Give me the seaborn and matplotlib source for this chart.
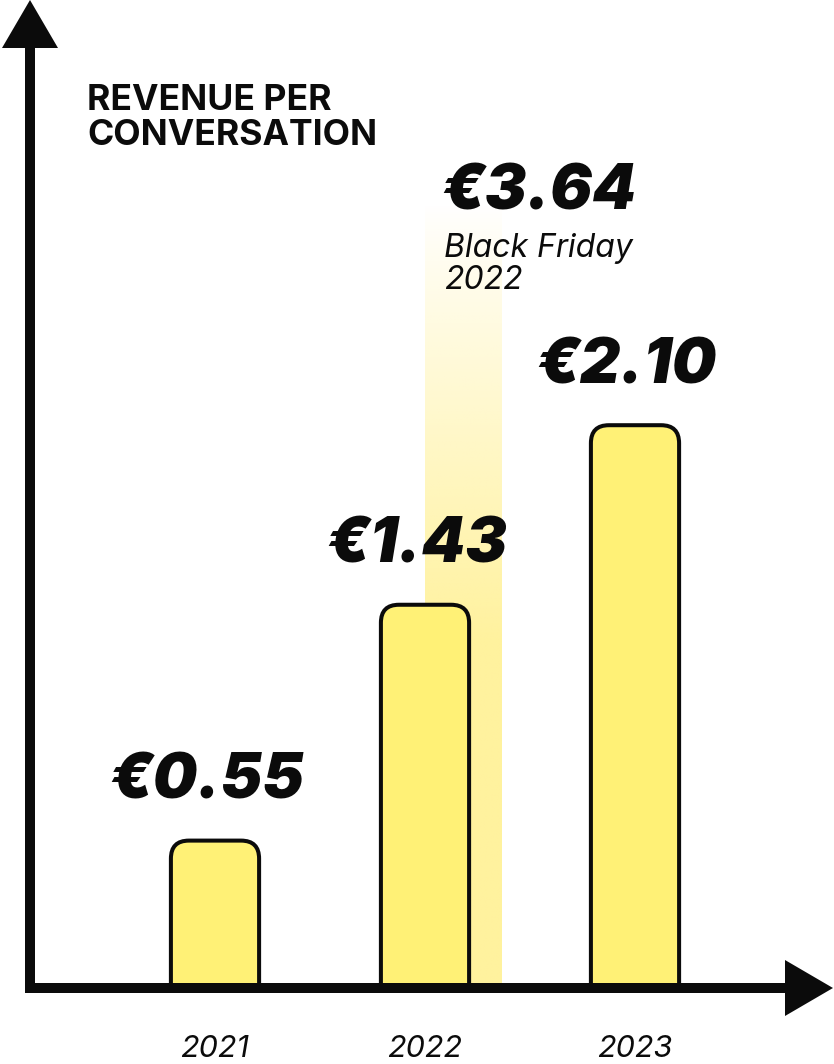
import matplotlib
matplotlib.use("Agg")
import numpy as np
import pandas as pd
import seaborn as sns
import matplotlib.pyplot as plt
from matplotlib.patches import FancyBboxPatch, Polygon
from matplotlib.colors import to_rgb

# ---- data ----
years = ["2021", "2022", "2023"]
revenue = [0.55, 1.43, 2.10]
value_labels = ["€0.55", "€1.43", "€2.10"]
title_lines = ["REVENUE PER", "CONVERSATION"]
bf_value = 3.64
bf_label = "€3.64"
bf_note = ["Black Friday", "2022"]

# ---- style ----
BAR = "#FFF176"
GRAD = "#FFF29E"
INK = "#0B0B0B"

sns.set_theme(style="white")
plt.rcParams["font.family"] = ["Inter", "DejaVu Sans"]

W, H = 834, 1064
fig = plt.figure(figsize=(W / 100, H / 100), dpi=100)
fig.patch.set_facecolor("white")

base_px = 76.0      # baseline height from bottom (px)
ppu_y = 268.0       # px per value unit
ppu_x = 210.0       # px per category step
x0_px = 215.0       # px of first category centre

ax = fig.add_axes([0, base_px / H, 1, (H - base_px) / H])
df = pd.DataFrame({"year": years, "revenue": revenue})
sns.barplot(data=df, x="year", y="revenue", ax=ax, width=0.42,
            color=BAR, saturation=1, errorbar=None)

# rounded bars
rad = 18 / ppu_x
for p in list(ax.patches):
    x, w, h = p.get_x(), p.get_width(), p.get_height()
    p.remove()
    fb = FancyBboxPatch((x, -0.2), w, h + 0.2,
                        boxstyle=f"round,pad=0,rounding_size={rad}",
                        mutation_aspect=ppu_x / ppu_y,
                        fc=BAR, ec=INK, lw=2.9, zorder=3)
    ax.add_patch(fb)

# Black Friday gradient bar
gx0 = 1.0
gx1 = 1.0 + 77 / ppu_x
ys = np.linspace(bf_value, 0, 600)
fade_top = (H - 205 - base_px) / ppu_y
fade_full = (H - 640 - base_px) / ppu_y
alpha = np.clip((fade_top - ys) / (fade_top - fade_full), 0, 1) ** 0.9
rgba = np.zeros((len(ys), 1, 4))
rgba[:, 0, :3] = to_rgb(GRAD)
rgba[:, 0, 3] = alpha
ax.imshow(rgba, extent=[gx0, gx1, 0, bf_value], aspect="auto",
          interpolation="bilinear", zorder=1)

ax.set_xlim(-x0_px / ppu_x, (W - x0_px) / ppu_x)
ax.set_ylim(0, (H - base_px) / ppu_y)

# value labels
for i, (v, lab) in enumerate(zip(revenue, value_labels)):
    ax.text(i - 0.04, v + 42 / ppu_y, lab, ha="center", va="baseline",
            fontsize=45, fontweight=900, fontstyle="italic", color=INK, zorder=5)

# Black Friday label + note
ax.text((441 - x0_px) / ppu_x, (H - 210 - base_px) / ppu_y, bf_label,
        ha="left", va="baseline", fontsize=45, fontweight=900,
        fontstyle="italic", color=INK, zorder=5)
for k, line in enumerate(bf_note):
    ax.text((444 - x0_px) / ppu_x, (H - 257 - 32 * k - base_px) / ppu_y, line,
            ha="left", va="baseline", fontsize=23, fontweight=400,
            fontstyle="italic", color=INK, zorder=5)

# axes cosmetics
sns.despine(ax=ax, left=True, bottom=True)
ax.set_yticks([])
ax.set_xlabel("")
ax.set_ylabel("")
ax.set_xticks(range(len(years)))
ax.set_xticklabels(years, fontsize=22, fontstyle="italic", fontweight=400, color=INK)
ax.tick_params(axis="x", length=0, pad=34)
ax.grid(False)
ax.patch.set_alpha(0)

# overlay in pixel coordinates for arrows + title
ov = fig.add_axes([0, 0, 1, 1])
ov.set_xlim(0, W)
ov.set_ylim(H, 0)
ov.axis("off")
lw_pt = 10 * 72 / 100
ov.plot([30, 30], [993, 46], color=INK, lw=lw_pt, solid_capstyle="butt")
ov.add_patch(Polygon([(2, 48), (58, 48), (30, 0)], closed=True, fc=INK, ec="none"))
ov.plot([25, 787], [988, 988], color=INK, lw=lw_pt, solid_capstyle="butt")
ov.add_patch(Polygon([(785, 960), (785, 1016), (833, 988)], closed=True, fc=INK, ec="none"))

for k, line in enumerate(title_lines):
    ov.text(87, 110 + 35 * k, line, ha="left", va="baseline", fontsize=25.6,
            fontweight=700, color=INK)

fig.savefig("out.png", dpi=100, facecolor="white")
